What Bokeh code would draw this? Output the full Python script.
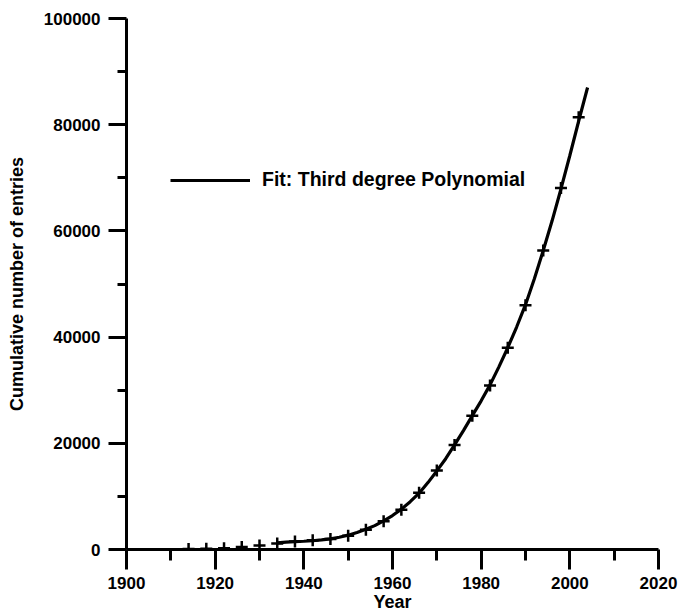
from bokeh.plotting import figure
from bokeh.models import Range1d, FixedTicker, Legend, LegendItem
from bokeh.embed import file_html
from bokeh.resources import INLINE

# Observed data (markers)
obs_years = [1914, 1918, 1922, 1926, 1930, 1934, 1938, 1942, 1946, 1950, 1954, 1958,
             1962, 1966, 1970, 1974, 1978, 1982, 1986, 1990, 1994, 1998, 2002]
obs_counts = [100, 150, 250, 450, 750, 1150, 1500, 1750, 2000, 2600, 3700, 5300,
              7500, 10700, 14900, 19700, 25200, 30900, 38000, 46000, 56300, 68100, 81400]

# Fitted curve (third degree polynomial)
fit_years = [1934, 1936, 1938, 1940, 1942, 1944, 1946, 1948, 1950, 1952, 1954, 1956,
             1958, 1960, 1962, 1964, 1966, 1968, 1970, 1972, 1974, 1976, 1978, 1980,
             1982, 1984, 1986, 1988, 1990, 1992, 1994, 1996, 1998, 2000, 2002, 2004]
fit_counts = [1250, 1400, 1500, 1550, 1650, 1800, 2000, 2300, 2700, 3200, 3800, 4500,
              5400, 6400, 7600, 9000, 10600, 12600, 14800, 17100, 19700, 22400, 25200, 28000,
              31000, 34400, 38000, 41900, 46100, 51000, 56300, 61900, 67900, 74200, 80700, 87000]

x_ticks = [1900, 1920, 1940, 1960, 1980, 2000, 2020]
x_minor = [1910, 1930, 1950, 1970, 1990, 2010]
y_ticks = [0, 20000, 40000, 60000, 80000, 100000]
y_minor = [10000, 30000, 50000, 70000, 90000]

legend_label = "Fit: Third degree Polynomial"
FONT = "Liberation Sans"

p = figure(width=680, height=614, output_backend="svg", toolbar_location=None,
           x_range=Range1d(1900, 2020), y_range=Range1d(0, 100000),
           min_border_left=126, min_border_right=22, min_border_top=18, min_border_bottom=64)
p.outline_line_color = None
p.xgrid.visible = False
p.ygrid.visible = False
p.background_fill_color = "white"
p.border_fill_color = "white"

fit = p.line(fit_years, fit_counts, line_color="black", line_width=3.2)
p.scatter(obs_years, obs_counts, marker="cross", size=12, line_color="black", line_width=2.5)

for ax in (p.xaxis[0], p.yaxis[0]):
    ax.axis_line_width = 3
    ax.axis_line_color = "black"
    ax.major_tick_line_width = 3
    ax.minor_tick_line_width = 3
    ax.major_tick_in = 0
    ax.minor_tick_in = 0
    ax.major_label_text_font = FONT
    ax.major_label_text_font_style = "bold"
    ax.major_label_text_font_size = "17px"
    ax.major_label_text_color = "black"
    ax.axis_label_text_font = FONT
    ax.axis_label_text_font_style = "bold"
    ax.axis_label_text_font_size = "18px"
    ax.axis_label_text_color = "black"

p.xaxis[0].ticker = FixedTicker(ticks=x_ticks, minor_ticks=x_minor)
p.yaxis[0].ticker = FixedTicker(ticks=y_ticks, minor_ticks=y_minor)
p.xaxis[0].major_tick_out = 20
p.xaxis[0].minor_tick_out = 11
p.yaxis[0].major_tick_out = 18
p.yaxis[0].minor_tick_out = 9
p.xaxis[0].major_label_standoff = 7
p.yaxis[0].major_label_standoff = 8
p.xaxis[0].axis_label = "Year"
p.yaxis[0].axis_label = "Cumulative number of entries"
p.xaxis[0].axis_label_standoff = 0
p.yaxis[0].axis_label_standoff = 14
p.yaxis[0].formatter.use_scientific = False

legend = Legend(items=[LegendItem(label=legend_label, renderers=[fit])],
                location=(44, 358), border_line_color=None, background_fill_alpha=0,
                padding=0, margin=0, glyph_width=80, glyph_height=20, label_standoff=12,
                label_text_font=FONT, label_text_font_style="bold",
                label_text_font_size="19.5px", label_text_color="black")
p.add_layout(legend, "center")

open("out.html", "w").write(file_html(p, INLINE))
